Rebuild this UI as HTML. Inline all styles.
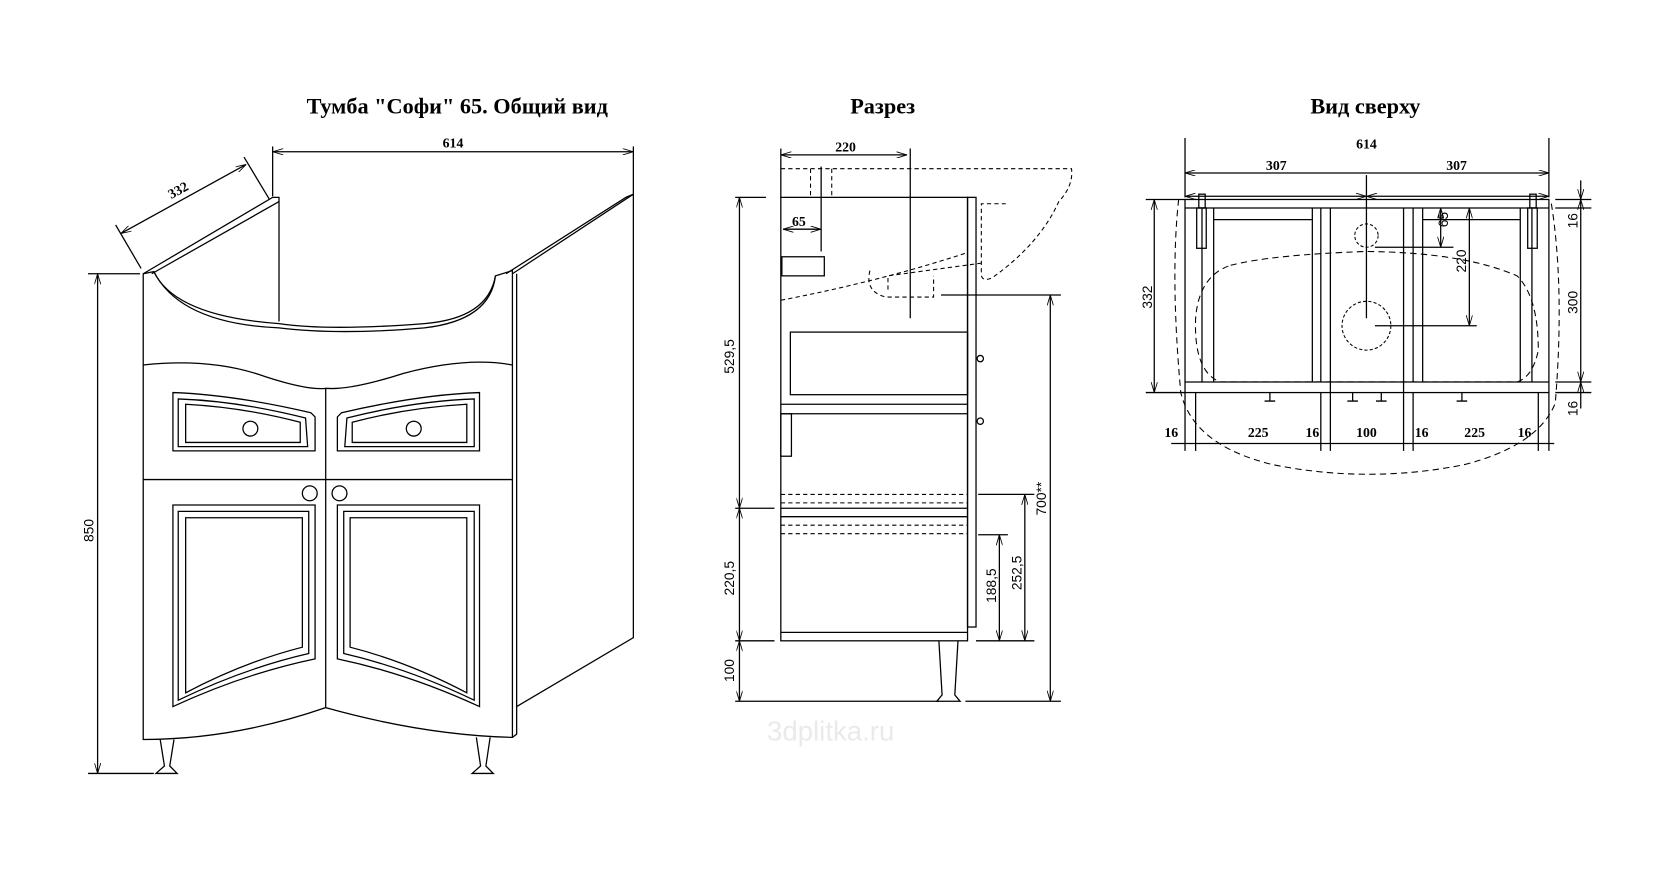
<!DOCTYPE html>
<html><head><meta charset="utf-8"><style>
html,body{margin:0;padding:0;background:#fff;width:1655px;height:870px;overflow:hidden}
svg{display:block}
text{font-family:"Liberation Serif","DejaVu Serif",serif;font-weight:bold;fill:#000}
.d{font-family:"Liberation Sans",sans-serif;font-weight:normal;font-size:13px}
</style></head><body>
<svg width="1655" height="870" viewBox="0 0 1560 820" xmlns="http://www.w3.org/2000/svg">
<defs>
<marker id="a" viewBox="0 0 10 6" refX="10" refY="3" markerWidth="10" markerHeight="6" orient="auto-start-reverse" markerUnits="userSpaceOnUse"><path d="M0,0 L10,3 L0,6" fill="none" stroke="#000" stroke-width="0.8"/></marker>
</defs>
<g stroke="#000" stroke-width="1.2" fill="none">
<line x1="257" y1="143" x2="597" y2="143" marker-start="url(#a)" marker-end="url(#a)"/>
<line x1="257" y1="138" x2="257" y2="185"/><line x1="597" y1="138" x2="597" y2="183"/>
<line x1="114" y1="220" x2="232" y2="155" marker-start="url(#a)" marker-end="url(#a)"/>
<line x1="109" y1="212" x2="133" y2="253"/><line x1="230" y1="148" x2="254" y2="188"/>
<line x1="92" y1="258" x2="92" y2="729" marker-start="url(#a)" marker-end="url(#a)"/>
<line x1="83" y1="258" x2="132" y2="258"/><line x1="83" y1="729" x2="145" y2="729"/>
<path d="M135,258 L257,186 L263,186 L263,303"/>
<path d="M143,258 L263,190"/>
<!-- right side panel -->
<path d="M483,258 L597,183 L597,601 L487,666"/>
<path d="M477,258 L590,186 L597,183"/>
<path d="M487,258 L487,692 L483,695"/>
<!-- front -->
<path d="M135,258 L145,256 Q165,298 263,305 Q310,312 400,305 Q460,300 467,260 L483,255 L483,695 Q400,693 307,667 Q220,697 135,697 Z"/>
<path d="M145,256 Q170,305 263,309 Q320,316 400,309 Q462,302 467,260"/>
<path d="M135,344 Q200,337 250,355 Q290,368 307,366 Q330,368 380,352 Q440,336 483,344"/>
<line x1="135" y1="452" x2="483" y2="452"/>
<line x1="307" y1="366" x2="307" y2="667"/>
<path d="M163,370 Q220,372 293,389 L297,393 L297,425 L163,425 Z" stroke-linejoin="round"/>
<path d="M168,376 Q225,378 288,394 L290,421 L168,421 Z"/>
<path d="M175,381 Q230,384 283,398 L283,417 L175,417 Z"/>
<circle cx="236" cy="404" r="7"/>
<path d="M452,370 Q395,372 322,389 L318,393 L318,425 L452,425 Z"/>
<path d="M447,376 Q390,378 327,394 L325,421 L447,421 Z"/>
<path d="M440,381 Q385,384 332,398 L332,417 L440,417 Z"/>
<circle cx="390" cy="404" r="7"/>
<circle cx="292" cy="465" r="7"/><circle cx="320" cy="465" r="7"/>
<path d="M163,476 L297,476 L297,621 Q230,635 163,666 Z"/>
<path d="M168,482 L291,482 L291,616 Q230,630 168,660 Z"/>
<path d="M175,488 L285,488 L285,610 Q230,624 175,653 Z"/>
<path d="M452,476 L318,476 L318,621 Q385,635 452,666 Z"/>
<path d="M447,482 L324,482 L324,616 Q385,630 447,660 Z"/>
<path d="M440,488 L330,488 L330,610 Q385,624 440,653 Z"/>
<path d="M151,697 L155,722 L147,729 L167,729 L160,722 L164,697"/>
<path d="M449,695 L453,722 L445,729 L465,729 L458,722 L462,695"/>
<!-- MIDDLE -->
<line x1="736" y1="146" x2="855" y2="146" marker-start="url(#a)" marker-end="url(#a)"/>
<line x1="736" y1="140" x2="736" y2="186"/>
<line x1="858" y1="140" x2="858" y2="300"/>
<line x1="738" y1="216" x2="774" y2="216" marker-start="url(#a)" marker-end="url(#a)"/>
<line x1="774" y1="157" x2="774" y2="237"/>
<line x1="693" y1="186" x2="722" y2="186"/>
<rect x="736" y="186" width="176" height="418"/>
<rect x="912" y="186" width="8" height="405"/>
<rect x="745" y="313" width="167" height="59"/>
<line x1="736" y1="381" x2="912" y2="381"/><line x1="736" y1="390" x2="912" y2="390"/>
<rect x="736" y="390" width="10" height="40"/>
<line x1="736" y1="479" x2="912" y2="479"/><line x1="736" y1="487" x2="912" y2="487"/>
<line x1="736" y1="596" x2="912" y2="596"/>
<rect x="737" y="242" width="40" height="18"/>
<path d="M885,604 L888,655 L883,661 L905,661 L900,655 L903,604"/>
<circle cx="924" cy="338" r="3"/><circle cx="924" cy="397" r="3"/>
<line x1="693" y1="661" x2="885" y2="661"/><line x1="910" y1="661" x2="1000" y2="661"/>
<line x1="697" y1="186" x2="697" y2="479" marker-start="url(#a)" marker-end="url(#a)"/>
<line x1="697" y1="479" x2="697" y2="604" marker-start="url(#a)" marker-end="url(#a)"/>
<line x1="697" y1="604" x2="697" y2="661" marker-start="url(#a)" marker-end="url(#a)"/>
<line x1="693" y1="479" x2="730" y2="479"/><line x1="693" y1="604" x2="730" y2="604"/>
<line x1="887" y1="278" x2="1000" y2="278"/>
<line x1="990" y1="278" x2="990" y2="661" marker-start="url(#a)" marker-end="url(#a)"/>
<line x1="922" y1="466" x2="975" y2="466"/><line x1="922" y1="504" x2="950" y2="504"/>
<line x1="966" y1="466" x2="966" y2="604" marker-start="url(#a)" marker-end="url(#a)"/>
<line x1="942" y1="504" x2="942" y2="604" marker-start="url(#a)" marker-end="url(#a)"/>
<line x1="920" y1="604" x2="975" y2="604"/>
</g>
<g stroke="#000" stroke-width="1" fill="none" stroke-dasharray="4,3">
<path d="M736,159 L1010,159 Q1012,175 998,190 Q980,230 935,262 Q925,266 925,258 L925,192 L948,192"/>
<path d="M736,283 Q830,265 912,238"/>
<path d="M820,255 Q815,275 835,280 L880,280 L880,260"/>
<path d="M837,273 L837,260 L925,248"/>
<line x1="764" y1="159" x2="764" y2="186"/><line x1="784" y1="159" x2="784" y2="186"/>
<line x1="736" y1="466" x2="912" y2="466"/><line x1="736" y1="474" x2="912" y2="474"/>
<line x1="736" y1="495" x2="912" y2="495"/><line x1="736" y1="503" x2="912" y2="503"/>
</g>
<g stroke="#000" stroke-width="1.2" fill="none">
<line x1="1117" y1="163" x2="1460" y2="163" marker-start="url(#a)" marker-end="url(#a)"/>
<line x1="1117" y1="185" x2="1288" y2="185" marker-start="url(#a)" marker-end="url(#a)"/>
<line x1="1288" y1="185" x2="1460" y2="185" marker-start="url(#a)" marker-end="url(#a)"/>
<line x1="1117" y1="130" x2="1117" y2="186"/><line x1="1460" y1="130" x2="1460" y2="186"/>
<line x1="1288" y1="165" x2="1288" y2="300"/>
<rect x="1117" y="188" width="343" height="182"/>
<line x1="1117" y1="196" x2="1460" y2="196"/>
<line x1="1117" y1="360" x2="1460" y2="360"/>
<line x1="1133" y1="196" x2="1133" y2="360"/><line x1="1444" y1="196" x2="1444" y2="360"/>
<line x1="1144" y1="196" x2="1144" y2="360"/><line x1="1433" y1="196" x2="1433" y2="360"/>
<line x1="1144" y1="207" x2="1237" y2="207"/><line x1="1341" y1="207" x2="1433" y2="207"/>
<line x1="1237" y1="196" x2="1237" y2="360"/><line x1="1245" y1="196" x2="1245" y2="360"/>
<line x1="1254" y1="196" x2="1254" y2="370"/><line x1="1323" y1="196" x2="1323" y2="370"/>
<line x1="1332" y1="196" x2="1332" y2="360"/><line x1="1341" y1="196" x2="1341" y2="360"/>
<rect x="1128" y="196" width="9" height="38"/><rect x="1440" y="196" width="9" height="38"/>
<rect x="1130" y="183" width="6" height="13"/><rect x="1442" y="183" width="6" height="13"/>
<line x1="1088" y1="188" x2="1088" y2="370" marker-start="url(#a)" marker-end="url(#a)"/>
<line x1="1080" y1="188" x2="1117" y2="188"/><line x1="1080" y1="370" x2="1117" y2="370"/>
<line x1="1490" y1="188" x2="1490" y2="360" marker-start="url(#a)" marker-end="url(#a)"/>
<line x1="1490" y1="170" x2="1490" y2="188" marker-end="url(#a)"/>
<line x1="1490" y1="385" x2="1490" y2="360" marker-end="url(#a)"/>
<line x1="1466" y1="188" x2="1500" y2="188"/><line x1="1466" y1="196" x2="1500" y2="196"/>
<line x1="1466" y1="360" x2="1500" y2="360"/><line x1="1466" y1="370" x2="1500" y2="370"/>
<line x1="1358" y1="196" x2="1358" y2="233" marker-start="url(#a)" marker-end="url(#a)"/>
<line x1="1385" y1="196" x2="1385" y2="307" marker-start="url(#a)" marker-end="url(#a)"/>
<line x1="1296" y1="233" x2="1370" y2="233"/><line x1="1296" y1="307" x2="1392" y2="307"/>
<line x1="1104" y1="418" x2="1465" y2="418"/>
<line x1="1117" y1="370" x2="1117" y2="425"/><line x1="1127" y1="370" x2="1127" y2="425"/>
<line x1="1245" y1="370" x2="1245" y2="425"/><line x1="1254" y1="370" x2="1254" y2="425"/>
<line x1="1323" y1="370" x2="1323" y2="425"/><line x1="1332" y1="370" x2="1332" y2="425"/>
<line x1="1450" y1="370" x2="1450" y2="425"/><line x1="1460" y1="370" x2="1460" y2="425"/>
<path d="M1197,370 L1197,378 M1192,378 L1202,378"/>
<path d="M1275,370 L1275,378 M1270,378 L1280,378"/>
<path d="M1302,370 L1302,378 M1297,378 L1307,378"/>
<path d="M1378,370 L1378,378 M1373,378 L1383,378"/>
</g>
<g stroke="#000" stroke-width="1" fill="none" stroke-dasharray="6,4">
<path d="M1111,188 Q1103,260 1113,370 Q1125,420 1200,438 Q1290,456 1380,438 Q1450,420 1466,380 Q1475,270 1462,190"/>
<path d="M1160,250 Q1200,240 1288,237 Q1380,238 1430,260 Q1450,280 1450,330 Q1445,355 1430,360 L1150,360 Q1125,350 1127,300 Q1130,260 1160,250 Z"/>
<circle cx="1288" cy="222" r="11" stroke-dasharray="3,2"/>
<circle cx="1288" cy="307" r="23" stroke-dasharray="3,2"/>
</g>
<text x="431" y="107" text-anchor="middle" font-size="21">Тумба "Софи" 65. Общий вид</text>
<text x="832" y="107" text-anchor="middle" font-size="21">Разрез</text>
<text x="1287" y="107" text-anchor="middle" font-size="21">Вид сверху</text>
<g font-size="13">
<text x="427" y="139" text-anchor="middle">614</text>
<text x="170" y="183" text-anchor="middle" transform="rotate(-29 170 183)">332</text>
<text x="797" y="143" text-anchor="middle">220</text>
<text x="753" y="213" text-anchor="middle">65</text>
<text x="1288" y="140" text-anchor="middle">614</text>
<text x="1203" y="160" text-anchor="middle">307</text>
<text x="1373" y="160" text-anchor="middle">307</text>
<text x="1104" y="412" text-anchor="middle">16</text>
<text x="1186" y="412" text-anchor="middle">225</text>
<text x="1237" y="412" text-anchor="middle">16</text>
<text x="1288" y="412" text-anchor="middle">100</text>
<text x="1340" y="412" text-anchor="middle">16</text>
<text x="1390" y="412" text-anchor="middle">225</text>
<text x="1437" y="412" text-anchor="middle">16</text>
</g>
<g class="d">
<text class="d" transform="translate(88 500) rotate(-90)" text-anchor="middle">850</text>
<text class="d" transform="translate(692 336) rotate(-90)" text-anchor="middle">529,5</text>
<text class="d" transform="translate(692 545) rotate(-90)" text-anchor="middle">220,5</text>
<text class="d" transform="translate(692 632) rotate(-90)" text-anchor="middle">100</text>
<text class="d" transform="translate(939 552) rotate(-90)" text-anchor="middle">188,5</text>
<text class="d" transform="translate(963 540) rotate(-90)" text-anchor="middle">252,5</text>
<text class="d" transform="translate(986 470) rotate(-90)" text-anchor="middle">700**</text>
<text class="d" transform="translate(1086 280) rotate(-90)" text-anchor="middle">332</text>
<text class="d" transform="translate(1365 207) rotate(-90)" text-anchor="middle">65</text>
<text class="d" transform="translate(1382 246) rotate(-90)" text-anchor="middle">220</text>
<text class="d" transform="translate(1487 285) rotate(-90)" text-anchor="middle">300</text>
<text class="d" transform="translate(1487 208) rotate(-90)" text-anchor="middle">16</text>
<text class="d" transform="translate(1487 385) rotate(-90)" text-anchor="middle">16</text>
</g>
<text x="783" y="698" text-anchor="middle" font-size="26" style="font-family:'Liberation Sans',sans-serif;font-weight:normal;fill:#eaeaea">3dplitka.ru</text>
</svg>
</body></html>
